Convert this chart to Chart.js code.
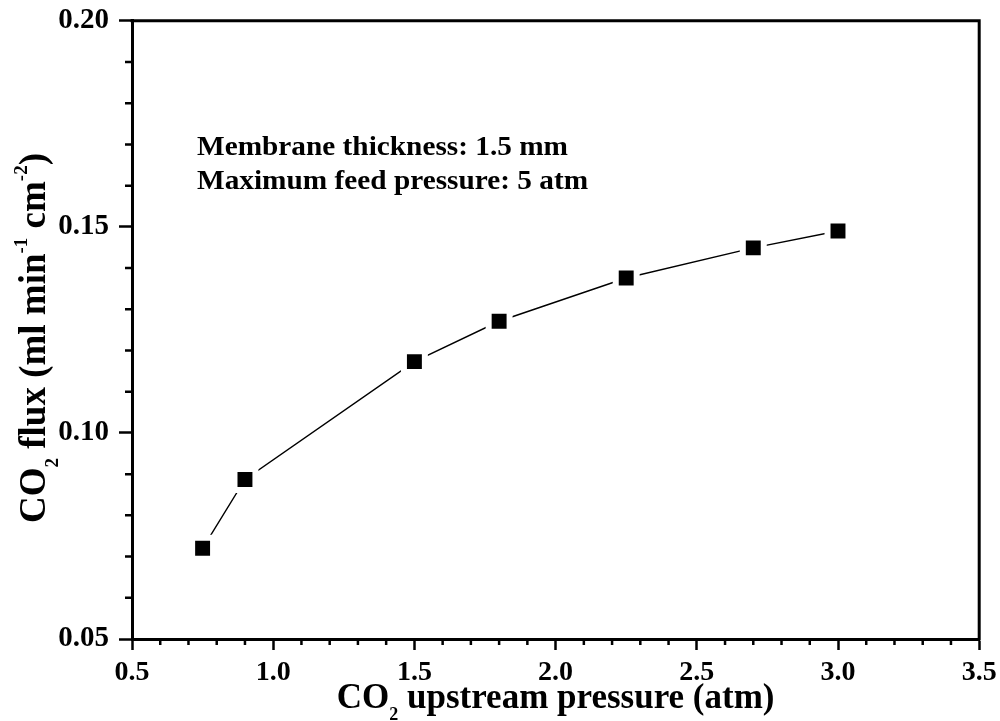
<!DOCTYPE html>
<html>
<head>
<meta charset="utf-8">
<title>CO2 flux vs upstream pressure</title>
<script src="https://cdn.jsdelivr.net/npm/chart.js@4.4.0/dist/chart.umd.min.js"></script>
<style>
    html, body { margin: 0; padding: 0; background: #fff; }
    #wrap { width: 1000px; height: 721px; }
</style>
</head>
<body>
<div id="wrap"><canvas id="fluxChart" width="1000" height="721"></canvas></div>
<script>
    // measured points
    var pressure = [0.75, 0.9, 1.5, 1.8, 2.25, 2.7, 3.0];
    var flux = [0.0720, 0.0887, 0.1173, 0.1271, 0.1376, 0.1449, 0.1490];

    // axis ticks
    var xTickValues = [0.5, 1.0, 1.5, 2.0, 2.5, 3.0, 3.5];
    var yTickValues = [0.05, 0.10, 0.15, 0.20];

    var notes = ['Membrane thickness: 1.5 mm', 'Maximum feed pressure: 5 atm'];

    var FONT = "'Liberation Serif', 'Times New Roman', serif";

    // draw a line of text with sub/superscripts, centered at x
    function drawRich(ctx, parts, x, y, size) {
        var small = Math.round(size * 0.5);
        var total = 0;
        parts.forEach(function (p) {
            ctx.font = 'bold ' + (p.s ? small : size) + 'px ' + FONT;
            p.w = ctx.measureText(p.t).width;
            total += p.w;
        });
        var cx = x - total / 2;
        parts.forEach(function (p) {
            ctx.font = 'bold ' + (p.s ? small : size) + 'px ' + FONT;
            var dy = 0;
            if (p.s === 'sub') dy = size * 0.34;
            if (p.s === 'sup') dy = -size * 0.5;
            ctx.fillText(p.t, cx, y + dy);
            cx += p.w;
        });
    }

    var framePlugin = {
        id: 'frame',
        afterDraw: function (chart) {
            var ctx = chart.ctx;
            var a = chart.chartArea;
            var xs = chart.scales.x, ys = chart.scales.y;
            ctx.save();
            ctx.strokeStyle = '#000';
            ctx.lineWidth = 3;
            ctx.lineCap = 'square';
            // top and right border
            ctx.beginPath();
            ctx.moveTo(a.left, a.top);
            ctx.lineTo(a.right, a.top);
            ctx.lineTo(a.right, a.bottom);
            ctx.stroke();

            // minor ticks
            ctx.lineWidth = 2.5;
            ctx.lineCap = 'butt';
            ctx.beginPath();
            for (var i = 1; i < 30; i++) {
                if (i % 5 === 0) continue;
                var px = xs.getPixelForValue(0.5 + i * 0.1);
                ctx.moveTo(px, a.bottom);
                ctx.lineTo(px, a.bottom + 6);
            }
            for (var j = 1; j < 15; j++) {
                if (j % 5 === 0) continue;
                var py = ys.getPixelForValue(0.05 + j * 0.01);
                ctx.moveTo(a.left, py);
                ctx.lineTo(a.left - 7, py);
            }
            ctx.stroke();

            ctx.fillStyle = '#000';
            ctx.textBaseline = 'alphabetic';
            ctx.textAlign = 'left';

            // x axis title
            drawRich(ctx, [
                { t: 'CO' }, { t: '2', s: 'sub' }, { t: ' upstream pressure (atm)' }
            ], (a.left + a.right) / 2, 708, 35);

            // y axis title
            ctx.save();
            ctx.translate(45, 338);
            ctx.rotate(-Math.PI / 2);
            drawRich(ctx, [
                { t: 'CO' }, { t: '2', s: 'sub' }, { t: ' flux (ml min' },
                { t: '-1', s: 'sup' }, { t: ' cm' }, { t: '-2', s: 'sup' }, { t: ')' }
            ], 0, 0, 37);
            ctx.restore();

            // notes, slightly widened
            ctx.font = 'bold 27px ' + FONT;
            ctx.save();
            ctx.translate(197, 0);
            ctx.scale(1.085, 1);
            ctx.fillText(notes[0], 0, 155);
            ctx.fillText(notes[1], 0, 189);
            ctx.restore();
            ctx.restore();
        }
    };

    var ctx = document.getElementById('fluxChart').getContext('2d');

    new Chart(ctx, {
        type: 'line',
        data: {
            labels: pressure,
            datasets: [{
                data: pressure.map(function (p, i) { return { x: p, y: flux[i] }; }),
                borderColor: '#000',
                borderWidth: 1.4,
                pointStyle: 'rect',
                pointRadius: 14.8,
                pointHoverRadius: 14.8,
                pointBackgroundColor: '#000',
                pointBorderColor: '#fff',
                pointBorderWidth: 6,
                tension: 0
            }]
        },
        options: {
            responsive: false,
            animation: false,
            devicePixelRatio: 1,
            layout: { padding: { left: 0, right: 20, top: 17, bottom: 0 } },
            plugins: {
                legend: { display: false },
                tooltip: { enabled: false }
            },
            scales: {
                x: {
                    type: 'linear',
                    min: 0.5,
                    max: 3.5,
                    afterBuildTicks: function (s) {
                        s.ticks = xTickValues.map(function (v) { return { value: v }; });
                    },
                    afterFit: function (s) {
                        s.height = 82;
                        s.paddingLeft = 0;
                        s.paddingRight = 0;
                    },
                    ticks: {
                        color: '#000',
                        padding: 6,
                        maxRotation: 0,
                        font: { family: FONT, size: 28, weight: 'bold' },
                        callback: function (v) { return v.toFixed(1); }
                    },
                    grid: {
                        drawOnChartArea: false,
                        drawTicks: true,
                        tickLength: 11,
                        tickWidth: 2.5,
                        tickColor: '#000'
                    },
                    border: { display: true, color: '#000', width: 3 }
                },
                y: {
                    type: 'linear',
                    min: 0.05,
                    max: 0.20,
                    afterBuildTicks: function (s) {
                        s.ticks = yTickValues.map(function (v) { return { value: v }; });
                    },
                    afterFit: function (s) {
                        s.width = 132;
                        s.paddingTop = 0;
                        s.paddingBottom = 0;
                    },
                    ticks: {
                        color: '#000',
                        padding: 10,
                        font: { family: FONT, size: 29, weight: 'bold' },
                        callback: function (v) { return v.toFixed(2); }
                    },
                    grid: {
                        drawOnChartArea: false,
                        drawTicks: true,
                        tickLength: 13,
                        tickWidth: 2.5,
                        tickColor: '#000'
                    },
                    border: { display: true, color: '#000', width: 3 }
                }
            }
        },
        plugins: [framePlugin]
    });
</script>
</body>
</html>
